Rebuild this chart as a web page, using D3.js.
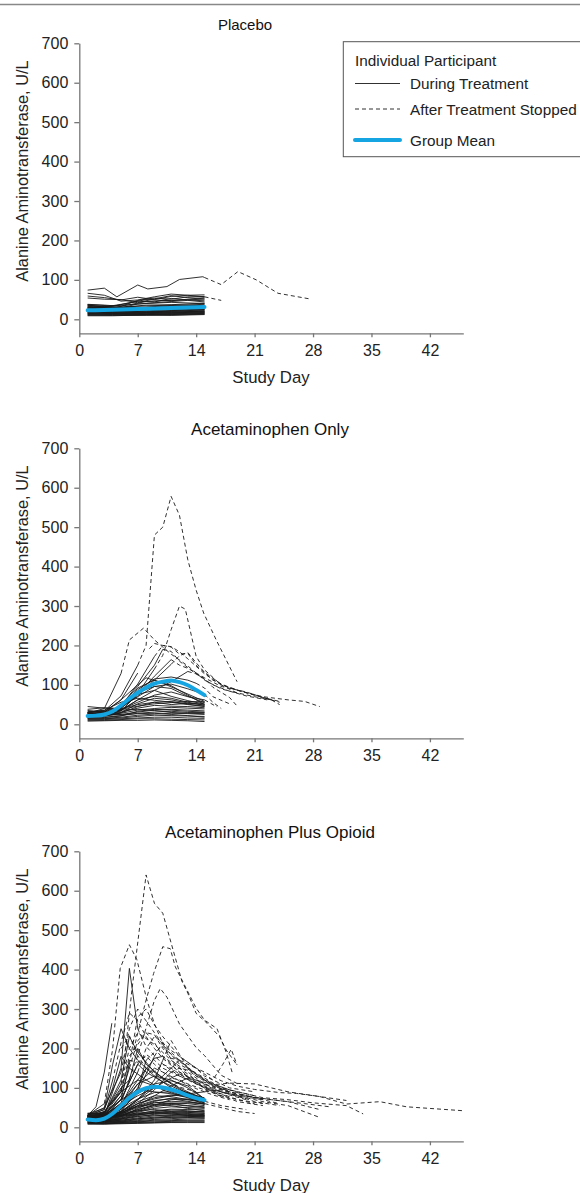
<!DOCTYPE html>
<html>
<head>
<meta charset="utf-8">
<script src="https://cdn.jsdelivr.net/npm/d3@7"></script>
<style>
  body { margin: 0; background: #fff; }
  svg { display: block; font-family: "Liberation Sans", Arial, sans-serif; }
  .tick text { fill: #222; }
</style>
</head>
<body>
<div id="chart"></div>
<script>
// Width and height
var w = 580;
var h = 1193;

// x ticks / y ticks
var dayTicks = [0, 7, 14, 21, 28, 35, 42];
var altTicks = [0, 100, 200, 300, 400, 500, 600, 700];

// panel titles
var titles = ["Placebo", "Acetaminophen Only", "Acetaminophen Plus Opioid"];

// each participant: [day treatment stopped, [[day, ALT], ...]]
// points up to the stop day are drawn solid, later points dashed
var placeboLines = [
  [15, [[1,74],[3,79],[4.5,57],[7,87],[8.2,77],[10.5,83],[12,101],[14.8,108],[15,106],[17,88],[19,121],[21.2,100],[23.8,66],[27.8,51]]],
  [15, [[1,66],[3,61],[5,46],[7,49],[9,57],[11,64],[13,61],[15,57],[17,48]]],
  [15, [[1,59],[3,55],[5,49],[7,56],[9,50],[11,58],[13,61],[15,62]]],
  [15, [[1,54],[3,51],[5,50],[7,42],[9,52],[11,60],[13,55],[15,52]]],
  [15, [[1,38],[3,36],[5,33],[7,48],[9,54],[11,51],[13,57],[15,58]]],
  [15, [[1,36],[3,31],[5,38],[7,46],[9,44],[11,53],[13,49],[15,47]]],
  [15, [[1,34],[3,33],[5,29],[7,39],[9,42],[11,45],[13,48],[15,44]]],
  [15, [[1,33],[4,28],[8,36],[11,37],[15,41]]],
  [15, [[1,31],[4,27],[8,31],[11,35],[15,38]]],
  [15, [[1,29],[4,31],[8,28],[11,31],[15,36]]],
  [15, [[1,27],[4,24],[8,27],[11,28],[15,32]]],
  [15, [[1,26],[4,26],[8,24],[11,29],[15,30]]],
  [15, [[1,25],[4,22],[8,26],[11,25],[15,29]]],
  [15, [[1,24],[4,23],[8,21],[11,26],[15,27]]],
  [15, [[1,23],[4,19],[8,23],[11,23],[15,26]]],
  [15, [[1,22],[4,21],[8,19],[11,22],[15,25]]],
  [15, [[1,21],[4,18],[8,21],[11,20],[15,24]]],
  [15, [[1,20],[4,19],[8,18],[11,21],[15,22]]],
  [15, [[1,19],[4,16],[8,18],[11,18],[15,21]]],
  [15, [[1,18],[4,17],[8,16],[11,19],[15,20]]],
  [15, [[1,17],[4,15],[8,17],[11,16],[15,19]]],
  [15, [[1,16],[4,15],[8,14],[11,17],[15,18]]],
  [15, [[1,15],[4,13],[8,15],[11,15],[15,17]]],
  [15, [[1,14],[4,14],[8,13],[11,14],[15,16]]],
  [15, [[1,13],[4,12],[8,12],[11,13],[15,15]]],
  [15, [[1,12],[4,11],[8,12],[11,12],[15,14]]],
  [15, [[1,10],[4,10],[8,10],[11,11],[15,13]]],
  [15, [[1,9],[4,9],[8,11],[11,10],[15,12]]],
  [15, [[1,37],[4,34],[8,40],[11,43],[15,40]]],
  [15, [[1,31],[4,30],[8,34],[11,36],[15,35]]],
  [15, [[1,28],[4,25],[8,30],[11,33],[15,33]]],
  [15, [[1,36],[4,29],[8,45],[11,48],[15,51]]],
  [15, [[1,30],[4,33],[8,50],[11,47],[15,55]]]
];

var acetaLines = [
  [7, [[1,30],[3,34],[5,72],[7,150],[8,200],[9,480],[10,500],[11,578],[12,530],[13,417],[14,340],[14.9,282],[16.4,214],[18.9,108]]],
  [9, [[1,25],[3,28],[5,42],[7,78],[9,140],[10,175],[11,240],[12,300],[12.7,292],[14,172],[15,138],[17,100],[19,78]]],
  [5, [[1,28],[3,40],[5,129],[6,214],[7.7,244],[9,214],[10,196],[11,178],[13,148],[15,112],[17,90],[20,72],[22.5,62]]],
  [8, [[1,24],[3,31],[5,62],[7,130],[8.4,192],[9,205],[10,200],[11,197],[12,184],[13,166],[15,128],[17,100],[20,80],[23,62],[24,50]]],
  [9, [[1,22],[3,24],[5,46],[7,102],[9,172],[10,200],[11,196],[12,178],[13,180],[14,150],[16,112],[18,92],[21,74],[24,56]]],
  [11, [[1,20],[3,27],[5,41],[7,72],[9,112],[11,152],[12,174],[13,182],[14,156],[15,132],[17,102],[19,86],[22,70],[25,62],[27,58],[28.8,45]]],
  [13, [[1,26],[3,28],[5,36],[7,62],[9,86],[11,108],[13,134],[14,128],[15,116],[16,94],[18,68],[19,44]]],
  [11, [[1,18],[3,22],[5,34],[7,76],[9,122],[11,164],[12,150],[13,142],[15,118],[17,96],[20,82],[22,68],[24,58]]],
  [10, [[1,24],[3,26],[5,48],[7,96],[9,150],[10,190],[11,185],[12,160],[14,128],[16,100],[18,84],[21,70],[23,62]]],
  [15, [[1,30],[3,32],[5,44],[7,70],[9,96],[11,102],[13,90],[15,76],[16,56],[17,40]]],
  [15, [[1,27],[3,26],[5,38],[7,56],[9,74],[11,82],[13,70],[15,62],[16.5,44]]],
  [14, [[1,21],[3,25],[5,44],[7,88],[9,115],[11,120],[13,112],[14,104],[15,92],[16,70],[18,52]]],
  [15, [[1,45],[3,41],[5,38],[7,46],[9,52],[11,55],[13,58],[15,57]]],
  [15, [[1,38],[3,42],[5,40],[7,50],[9,56],[11,50],[13,53],[15,54]]],
  [15, [[1,31],[3,35],[5,43],[7,76],[9,86],[11,71],[13,60],[15,51]]],
  [15, [[1,27],[3,31],[5,62],[7,100],[8,118],[10,104],[12,86],[15,58]]],
  [15, [[1,23],[3,28],[5,46],[7,81],[9,96],[11,91],[13,71],[15,55]]],
  [15, [[1,19],[3,22],[5,35],[7,62],[9,71],[11,66],[13,56],[15,48]]],
  [15, [[1,17],[3,20],[5,29],[7,45],[9,56],[11,58],[13,51],[15,46]]],
  [15, [[1,33],[3,28],[5,31],[7,41],[9,48],[11,46],[13,45],[15,42]]],
  [15, [[1,26],[3,24],[5,28],[7,36],[9,40],[11,43],[13,41],[15,39]]],
  [15, [[1,24],[3,22],[5,25],[7,31],[9,36],[11,38],[13,36],[15,34]]],
  [15, [[1,20],[3,18],[5,22],[7,28],[9,31],[11,33],[13,30],[15,30]]],
  [15, [[1,16],[3,15],[5,18],[7,23],[9,26],[11,28],[13,27],[15,25]]],
  [15, [[1,14],[3,14],[5,16],[7,20],[9,23],[11,22],[13,21],[15,20]]],
  [15, [[1,12],[3,12],[5,14],[7,16],[9,18],[11,18],[13,16],[15,15]]],
  [15, [[1,10],[3,10],[5,12],[7,14],[9,14],[11,13],[13,12],[15,11]]],
  [15, [[1,8],[3,9],[5,10],[7,10],[9,11],[11,10],[13,9],[15,7]]],
  [15, [[1,35],[3,32],[5,36],[7,38],[9,35],[11,30],[13,28],[15,27]]],
  [15, [[1,29],[3,26],[5,24],[7,27],[9,28],[11,25],[13,22],[15,18]]],
  [15, [[1,30],[3,36],[5,56],[7,66],[9,61],[11,56],[13,50],[15,45]]],
  [15, [[1,22],[3,24],[5,40],[7,92],[9,112],[11,98],[13,74],[15,50]]],
  [15, [[1,21],[3,23],[5,30],[7,52],[9,66],[11,62],[13,54],[15,49]]],
  [15, [[1,15],[3,17],[5,21],[7,33],[9,38],[11,36],[13,33],[15,31]]]
];

var opioidLines = [
  [5, [[1,25],[3,40],[5,90],[6.3,348],[8,640],[9,568],[10,543],[10.9,475],[12.3,370],[13,340],[14,289],[15.3,264],[16.8,230],[17.6,196],[18.9,158]]],
  [3, [[1,30],[3,60],[4,200],[4.9,403],[6,463],[6.9,425],[8.1,323],[9,262],[10,212],[11,172],[13,128],[15,98],[17,78]]],
  [6, [[1,22],[3,30],[5,80],[6.5,196],[7.9,315],[8.9,390],[10,458],[10.9,453],[11.5,407],[12.5,365],[14,302],[15,272],[16.5,250],[17.6,190],[18.3,140]]],
  [12, [[1,18],[3,22],[5,40],[7,70],[9,110],[11,150],[12,170],[13,160],[14,150],[15,130],[16,120],[17.2,160],[18.2,198],[18.9,158]]],
  [7, [[1,25],[3,30],[5,150],[6,403],[7,250],[8,205],[9,182],[10,160],[12,130],[14,112],[16,92],[18,76]]],
  [4, [[1,30],[2,52],[3,140],[3.9,264],[5,200],[6,232],[7,182],[8,150],[10,122],[12,102],[14,90]]],
  [6, [[1,20],[3,25],[5,62],[6,122],[7,182],[8,252],[9,322],[9.7,352],[10.5,330],[12,262],[13,232],[14,202],[15,182],[17,132],[19,110]]],
  [5, [[1,24],[3,36],[5,110],[6,200],[7,240],[8,225],[9,210],[10,190],[11,170],[13,140],[15,110],[17,90],[20,72]]],
  [4, [[1,28],[3,45],[4,120],[5,215],[6,290],[7,270],[8,230],[9,200],[10,175],[12,140],[14,115],[16,95],[19,80],[22,70]]],
  [6, [[1,22],[3,28],[5,70],[6,160],[7,280],[8,300],[9,260],[10,230],[11,205],[12,180],[14,150],[16,120],[18,100],[21,90]]],
  [5, [[1,26],[3,38],[5,95],[6,180],[7,210],[8,240],[9,215],[10,180],[12,150],[14,120],[16,108],[18,112],[21,110],[23,100],[25,90],[28.8,78],[32,59],[36,65],[39.2,52],[46,42]]],
  [7, [[1,20],[3,26],[5,55],[7,140],[8,200],[9,230],[10,215],[11,190],[12,170],[13,150],[15,125],[17,100],[19,90],[21,80]]],
  [8, [[1,18],[3,22],[5,40],[7,95],[8,170],[9,190],[10,205],[11,185],[12,160],[14,135],[16,110],[18,95],[20,85],[22,75],[25,70],[28,62],[32,55],[34,34]]],
  [9, [[1,24],[3,30],[5,52],[7,90],[9,180],[10,215],[11,195],[12,180],[13,165],[14,150],[15,140],[17,118],[19,104],[21,96],[24,88],[26,86],[28.8,78],[32,68]]],
  [10, [[1,20],[3,24],[5,38],[7,70],[9,120],[10,170],[11,220],[12,185],[13,150],[14,130],[16,105],[18,90],[21,75],[25,65],[28.8,45]]],
  [7, [[1,28],[3,34],[5,70],[7,160],[8,185],[9,170],[10,150],[11,140],[13,120],[15,100],[17,80],[19,65],[22,55]]],
  [6, [[1,22],[3,32],[5,90],[6,170],[7,165],[8,180],[9,160],[10,140],[12,118],[14,98],[16,82],[18,70]]],
  [8, [[1,26],[3,28],[5,45],[7,100],[8,150],[9,140],[10,160],[11,150],[12,135],[14,110],[16,95],[19,80],[22,65],[25,55],[28.8,25]]],
  [11, [[1,22],[3,25],[5,35],[7,60],[9,95],[11,140],[12,150],[13,145],[14,130],[16,110],[18,95],[20,80],[23,70],[27,60],[30,52]]],
  [9, [[1,20],[3,24],[5,50],[7,110],[9,150],[10,140],[11,125],[12,120],[13,110],[15,95],[17,80],[19,70],[21,60]]],
  [12, [[1,24],[3,26],[5,40],[7,70],[9,100],[11,125],[12,135],[13,128],[15,110],[17,95],[19,80],[21,65],[24,55]]],
  [13, [[1,20],[3,22],[5,32],[7,55],[9,80],[11,105],[13,125],[14,115],[15,100],[17,85],[19,70],[22,60]]],
  [10, [[1,26],[3,30],[5,60],[7,120],[9,175],[10,180],[11,160],[12,140],[14,120],[16,98],[18,82],[20,70]]],
  [5, [[1,30],[3,50],[5,140],[6,250],[7,300],[8,270],[9,240],[10,210],[11,185],[13,150],[15,120],[17,98],[19,82],[22,72]]],
  [6, [[1,24],[3,30],[5,80],[6,150],[7,220],[8,240],[9,235],[10,200],[11,175],[12,170],[14,135],[16,105],[18,92]]],
  [15, [[1,22],[3,25],[5,40],[7,60],[9,72],[11,80],[13,85],[15,90],[17,95],[19,85],[21,75],[24,60]]],
  [15, [[1,18],[3,20],[5,30],[7,45],[9,55],[11,60],[13,62],[15,60],[17,50],[19,40],[21,35]]],
  [15, [[1,25],[3,28],[5,38],[7,52],[9,66],[11,74],[13,70],[15,66],[17,55],[20,45]]],
  [15, [[1,30],[3,45],[4,100],[5,180],[6,150],[8,120],[10,95],[12,80],[15,65]]],
  [15, [[1,25],[3,35],[5,120],[6,230],[7,190],[9,140],[11,110],[13,85],[15,70]]],
  [15, [[1,22],[3,28],[5,70],[7,160],[8,140],[10,115],[12,95],[15,74]]],
  [15, [[1,28],[3,32],[5,60],[7,110],[9,130],[11,120],[13,100],[15,72]]],
  [15, [[1,20],[3,24],[5,45],[7,85],[9,110],[11,118],[13,105],[15,72]]],
  [15, [[1,32],[3,30],[5,40],[7,65],[9,80],[11,78],[13,70],[15,62]]],
  [15, [[1,26],[3,28],[5,38],[7,55],[9,68],[11,72],[13,66],[15,58]]],
  [15, [[1,24],[3,22],[5,30],[7,45],[9,58],[11,62],[13,60],[15,55]]],
  [15, [[1,22],[3,20],[5,26],[7,38],[9,48],[11,52],[13,50],[15,48]]],
  [15, [[1,20],[3,19],[5,24],[7,34],[9,42],[11,46],[13,45],[15,44]]],
  [15, [[1,18],[3,17],[5,21],[7,30],[9,38],[11,41],[13,40],[15,40]]],
  [15, [[1,17],[3,16],[5,20],[7,27],[9,33],[11,36],[13,37],[15,36]]],
  [15, [[1,16],[3,15],[5,18],[7,24],[9,29],[11,32],[13,33],[15,33]]],
  [15, [[1,15],[3,14],[5,16],[7,21],[9,26],[11,28],[13,30],[15,30]]],
  [15, [[1,14],[3,13],[5,15],[7,19],[9,23],[11,25],[13,27],[15,27]]],
  [15, [[1,13],[3,12],[5,14],[7,17],[9,20],[11,22],[13,24],[15,24]]],
  [15, [[1,12],[3,11],[5,13],[7,15],[9,18],[11,19],[13,21],[15,21]]],
  [15, [[1,11],[3,10],[5,12],[7,14],[9,16],[11,17],[13,18],[15,18]]],
  [15, [[1,10],[3,9],[5,11],[7,12],[9,14],[11,15],[13,16],[15,16]]],
  [15, [[1,9],[3,9],[5,10],[7,11],[9,12],[11,13],[13,14],[15,14]]],
  [15, [[1,8],[3,8],[5,9],[7,10],[9,11],[11,12],[13,12],[15,12]]],
  [15, [[1,35],[3,33],[5,36],[7,42],[9,45],[11,40],[13,38],[15,35]]],
  [15, [[1,31],[3,29],[5,33],[7,40],[9,52],[11,58],[13,54],[15,50]]],
  [15, [[1,29],[3,27],[5,31],[7,36],[9,40],[11,44],[13,42],[15,38]]],
  [15, [[1,27],[3,25],[5,34],[7,50],[9,62],[11,66],[13,64],[15,60]]],
  [15, [[1,23],[3,21],[5,28],[7,42],[9,56],[11,70],[13,72],[15,66]]],
  [15, [[1,21],[3,22],[5,35],[7,60],[9,75],[11,82],[13,78],[15,68]]],
  [15, [[1,19],[3,20],[5,27],[7,48],[9,64],[11,60],[13,55],[15,52]]],
  [15, [[1,17],[3,18],[5,23],[7,32],[9,36],[11,38],[13,35],[15,32]]],
  [15, [[1,15],[3,16],[5,22],[7,28],[9,31],[11,30],[13,28],[15,26]]],
  [15, [[1,33],[3,38],[5,70],[7,95],[9,90],[11,85],[13,80],[15,70]]],
  [15, [[1,28],[3,40],[5,90],[7,120],[9,105],[11,92],[13,84],[15,74]]],
  [15, [[1,26],[3,33],[5,55],[7,80],[9,100],[11,95],[13,88],[15,65]]],
  [15, [[1,24],[3,26],[5,48],[7,72],[9,88],[11,90],[13,76],[15,58]]],
  [15, [[1,36],[3,34],[5,30],[7,34],[9,38],[11,36],[13,33],[15,30]]],
  [15, [[1,20],[3,22],[5,36],[7,54],[9,58],[11,55],[13,48],[15,42]]],
  [15, [[1,12],[3,14],[5,18],[7,22],[9,24],[11,26],[13,25],[15,23]]],
  [15, [[1,30],[3,26],[5,28],[7,32],[9,35],[11,34],[13,30],[15,28]]],
  [15, [[1,34],[3,48],[4,160],[5,250],[6,200],[7,170],[9,130],[11,100],[13,80],[15,62]]],
  [15, [[1,26],[3,38],[5,100],[6,120],[7,200],[8,160],[10,125],[12,100],[15,70]]]
];

// group means
var placeboMean = [[1,23],[4,24],[7,26],[10,28],[13,30],[15,31]];
var acetaMean = [[1,21],[2,22],[3,25],[4,33],[5,48],[6,65],[7,80],[8,93],[9,103],[10,108],[11,111],[12,107],[13,99],[14,87],[15,74]];
var opioidMean = [[1,20],[2,18],[3,22],[4,35],[5,55],[6,75],[7,90],[8,99],[9,103],[10,101],[11,96],[12,89],[13,81],[14,74],[15,69]];

var blue = "#14a5e2";
var ink = "#1a1a1a";

var svg = d3.select("#chart")
  .append("svg")
  .attr("width", w)
  .attr("height", h);

// top rule
svg.append("line")
  .attr("x1", 0).attr("x2", w)
  .attr("y1", 4.5).attr("y2", 4.5)
  .attr("stroke", "#888")
  .attr("stroke-width", 1.5);

var x = d3.scaleLinear()
  .domain([0, 46])
  .range([79.3, 463.3]);

// title placement differs a little per panel in the original
var titleX = [245, 270, 270];
var titleSize = ["15px", "17px", "17px"];

function drawPanel(i, lines, mean, oy, showXTitle) {

  var y = d3.scaleLinear()
    .domain([-35.5, 700])
    .range([333.3 + oy, 43.3 + oy]);

  var line = d3.line()
    .x(function(d) { return x(d[0]); })
    .y(function(d) { return y(d[1]); });

  var g = svg.append("g");

  // title
  g.append("text")
    .attr("x", titleX[i])
    .attr("y", 30 + oy)
    .attr("text-anchor", "middle")
    .attr("font-size", titleSize[i])
    .attr("fill", "#111")
    .text(titles[i]);

  // individual participants: during treatment (solid)
  g.selectAll(".during")
    .data(lines)
    .enter()
    .append("path")
    .attr("class", "during")
    .attr("d", function(d) {
      return line(d[1].filter(function(p) { return p[0] <= d[0]; }));
    })
    .attr("fill", "none")
    .attr("stroke", ink)
    .attr("stroke-width", 0.9);

  // after treatment stopped (dashed)
  g.selectAll(".after")
    .data(lines.filter(function(d) {
      return d[1][d[1].length - 1][0] > d[0];
    }))
    .enter()
    .append("path")
    .attr("class", "after")
    .attr("d", function(d) {
      return line(d[1].filter(function(p) { return p[0] >= d[0]; }));
    })
    .attr("fill", "none")
    .attr("stroke", ink)
    .attr("stroke-width", 0.9)
    .attr("stroke-dasharray", "4,3");

  // group mean
  g.append("path")
    .datum(mean)
    .attr("d", d3.line()
      .curve(d3.curveMonotoneX)
      .x(function(d) { return x(d[0]); })
      .y(function(d) { return y(d[1]); }))
    .attr("fill", "none")
    .attr("stroke", blue)
    .attr("stroke-width", 4)
    .attr("stroke-linecap", "round");

  // axes
  var yAxis = g.append("g")
    .attr("transform", "translate(79.3,0)")
    .call(d3.axisLeft(y).tickValues(altTicks).tickSize(5).tickSizeOuter(0).tickPadding(6));

  var xAxis = g.append("g")
    .attr("transform", "translate(0," + (333.3 + oy) + ")")
    .call(d3.axisBottom(x).tickValues(dayTicks).tickSize(4).tickSizeOuter(0).tickPadding(7));

  [yAxis, xAxis].forEach(function(a) {
    a.select(".domain").attr("stroke", "#777").attr("stroke-width", 1.3);
    a.selectAll(".tick line").attr("stroke", "#777").attr("stroke-width", 1.3);
    a.selectAll(".tick text")
      .attr("font-size", "16px")
      .attr("font-family", "'Liberation Sans', Arial, sans-serif");
  });

  // y title
  g.append("text")
    .attr("transform", "translate(27.5," + (171 + oy) + ") rotate(-90)")
    .attr("text-anchor", "middle")
    .attr("font-size", "16.4px")
    .attr("fill", "#222")
    .text("Alanine Aminotransferase, U/L");

  if (showXTitle) {
    g.append("text")
      .attr("x", 271)
      .attr("y", 382.5 + oy)
      .attr("text-anchor", "middle")
      .attr("font-size", "16.8px")
      .attr("fill", "#222")
      .text("Study Day");
  }
}

drawPanel(0, placeboLines, placeboMean, 0, true);
drawPanel(1, acetaLines, acetaMean, 405, false);
drawPanel(2, opioidLines, opioidMean, 808, true);

// legend
var legend = svg.append("g").attr("class", "legend");

legend.append("rect")
  .attr("x", 343.3)
  .attr("y", 41.7)
  .attr("width", 260)
  .attr("height", 115)
  .attr("fill", "#fff")
  .attr("stroke", "#555")
  .attr("stroke-width", 1);

legend.append("text")
  .attr("x", 355).attr("y", 66)
  .attr("font-size", "15.3px").attr("fill", "#222")
  .text("Individual Participant");

var legendItems = [
  { label: "During Treatment", y: 83.5, dash: null, color: ink, width: 0.9 },
  { label: "After Treatment Stopped", y: 109, dash: "4,3", color: ink, width: 0.9 },
  { label: "Group Mean", y: 140, dash: null, color: blue, width: 4 }
];

legendItems.forEach(function(d) {
  legend.append("line")
    .attr("x1", 355).attr("x2", 400)
    .attr("y1", d.y).attr("y2", d.y)
    .attr("stroke", d.color)
    .attr("stroke-width", d.width)
    .attr("stroke-dasharray", d.dash)
    .attr("stroke-linecap", d.width > 2 ? "round" : "butt");
  legend.append("text")
    .attr("x", 410).attr("y", d.y + 5.5)
    .attr("font-size", "15.3px").attr("fill", "#222")
    .text(d.label);
});
</script>
</body>
</html>
